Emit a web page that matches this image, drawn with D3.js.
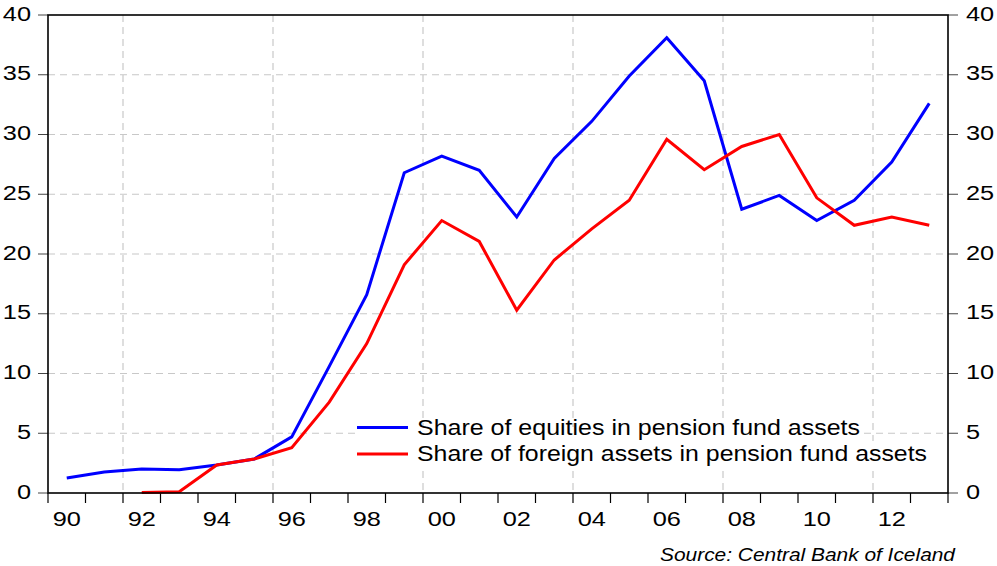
<!DOCTYPE html>
<html>
<head>
<meta charset="utf-8">
<script src="https://cdn.jsdelivr.net/npm/d3@7"></script>
<style>
  body { margin: 0; background: #fff; }
  text { font-family: "Liberation Sans", Arial, sans-serif; fill: #000; }
</style>
</head>
<body>
<script>
// Données (1990-2013, en %)
const years = d3.range(1990, 2014);
const equities = [1.25, 1.75, 2.0, 1.95, 2.35, 2.85, 4.7, 10.6, 16.6, 26.8, 28.2, 27.0, 23.1,
  28.0, 31.1, 34.9, 38.1, 34.5, 23.75, 24.9, 22.8, 24.5, 27.7, 32.6];
const foreign = [null, null, 0.05, 0.1, 2.35, 2.85, 3.8, 7.6, 12.5, 19.1, 22.8, 21.05, 15.3,
  19.5, 22.1, 24.5, 29.6, 27.05, 29.0, 30.0, 24.7, 22.4, 23.1, 22.4];
const yTicks = [0, 5, 10, 15, 20, 25, 30, 35, 40];
const xLabelYears = [1990, 1992, 1994, 1996, 1998, 2000, 2002, 2004, 2006, 2008, 2010, 2012];
const gridYears = [1992, 1996, 2000, 2004, 2008, 2012];
const seriesNames = ["Share of equities in pension fund assets", "Share of foreign assets in pension fund assets"];
const sourceText = "Source: Central Bank of Iceland";

/***** Configuration *****/
const width = 997, height = 566;
const margin = { top: 15, right: 49, bottom: 73, left: 48 };
const innerW = width - margin.left - margin.right;
const innerH = height - margin.top - margin.bottom;

const x = d3.scaleLinear().domain([1990, 2014]).range([0, innerW]);
const y = d3.scaleLinear().domain([0, 40]).range([innerH, 0]);

const svg = d3.select("body").append("svg")
  .attr("width", width)
  .attr("height", height);

const g = svg.append("g")
  .attr("transform", "translate(" + margin.left + "," + margin.top + ")");

// Grille pointillée
g.selectAll(".hgrid").data(yTicks.slice(1, -1)).join("line")
  .attr("x1", 0).attr("x2", innerW)
  .attr("y1", d => y(d)).attr("y2", d => y(d))
  .attr("stroke", "#c8c8c8").attr("stroke-width", 1.2).attr("stroke-dasharray", "7,5");

g.selectAll(".vgrid").data(gridYears).join("line")
  .attr("x1", d => x(d)).attr("x2", d => x(d))
  .attr("y1", 0).attr("y2", innerH)
  .attr("stroke", "#c8c8c8").attr("stroke-width", 1.2).attr("stroke-dasharray", "7,5");

// Graduations gauche/droite
g.selectAll(".ltick").data(yTicks).join("line")
  .attr("x1", -10).attr("x2", 0)
  .attr("y1", d => y(d)).attr("y2", d => y(d))
  .attr("stroke", "#444").attr("stroke-width", 1);
g.selectAll(".rtick").data(yTicks).join("line")
  .attr("x1", innerW).attr("x2", innerW + 10)
  .attr("y1", d => y(d)).attr("y2", d => y(d))
  .attr("stroke", "#444").attr("stroke-width", 1);

g.selectAll(".llab").data(yTicks).join("text")
  .attr("transform", d => "translate(-17," + (y(d) + 5.5) + ") scale(1.3,1)")
  .attr("text-anchor", "end")
  .style("font-size", "19.5px")
  .text(d => d);
g.selectAll(".rlab").data(yTicks).join("text")
  .attr("transform", d => "translate(" + (innerW + 18) + "," + (y(d) + 5.5) + ") scale(1.3,1)")
  .attr("text-anchor", "start")
  .style("font-size", "19.5px")
  .text(d => d);

// Axe des x
g.selectAll(".xtick").data(d3.range(1990, 2015)).join("line")
  .attr("x1", d => x(d)).attr("x2", d => x(d))
  .attr("y1", innerH).attr("y2", innerH + 10)
  .attr("stroke", "#000").attr("stroke-width", 1.2);
g.selectAll(".xlab").data(xLabelYears).join("text")
  .attr("transform", d => "translate(" + x(d + 0.5) + "," + (innerH + 33) + ") scale(1.3,1)")
  .attr("text-anchor", "middle")
  .style("font-size", "19.5px")
  .text(d => String(d % 100).padStart(2, "0"));

// Séries
const line = d3.line()
  .defined(d => d[1] != null)
  .x(d => x(d[0] + 0.5))
  .y(d => y(d[1]));

const colors = ["#0000ff", "#ff0000"];
[equities, foreign].forEach((vals, i) => {
  g.append("path")
    .datum(years.map((yr, j) => [yr, vals[j]]))
    .attr("fill", "none")
    .attr("stroke", colors[i])
    .attr("stroke-width", 3)
    .attr("stroke-linejoin", "miter")
    .attr("d", line);
});

// Cadre
g.append("rect")
  .attr("width", innerW).attr("height", innerH)
  .attr("fill", "none").attr("stroke", "#000").attr("stroke-width", 1.6);

// Légende
const legendX = 357 - margin.left;
const legendRows = [
  { y: 427.5 - margin.top, len: 443, bg: [427, 441] },
  { y: 454 - margin.top, len: 510, bg: [441, 467] }
];
legendRows.forEach((r, i) => {
  g.append("rect")
    .attr("x", legendX - 2).attr("y", r.bg[0] - margin.top)
    .attr("width", 60 + r.len + 4).attr("height", r.bg[1] - r.bg[0])
    .attr("fill", "#fff");
});
legendRows.forEach((r, i) => {
  g.append("line")
    .attr("x1", legendX).attr("x2", legendX + 51)
    .attr("y1", r.y).attr("y2", r.y)
    .attr("stroke", colors[i]).attr("stroke-width", 3);
  g.append("text")
    .attr("x", legendX + 60).attr("y", r.y + 7)
    .attr("textLength", r.len).attr("lengthAdjust", "spacingAndGlyphs")
    .style("font-size", "21.5px")
    .text(seriesNames[i]);
});

// Source
svg.append("text")
  .attr("x", 955).attr("y", 561)
  .attr("text-anchor", "end")
  .attr("textLength", 295).attr("lengthAdjust", "spacingAndGlyphs")
  .style("font-size", "18px").style("font-style", "italic")
  .text(sourceText);
</script>
</body>
</html>
